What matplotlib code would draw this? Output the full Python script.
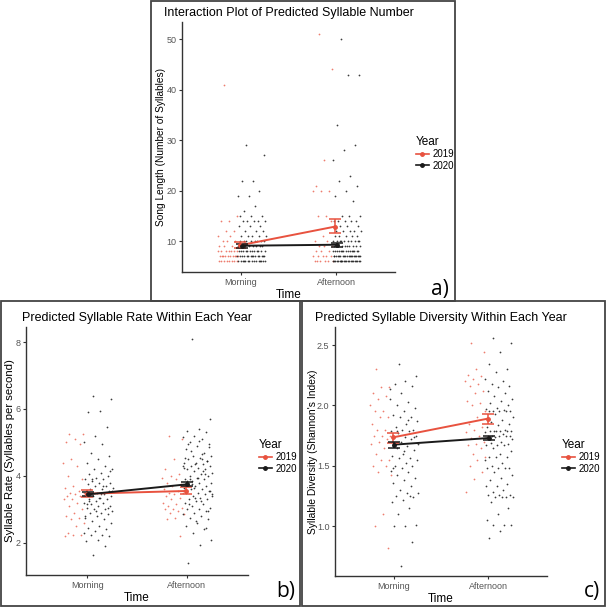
import numpy as np
import matplotlib

matplotlib.use("Agg")
import matplotlib.pyplot as plt
from matplotlib.lines import Line2D
from matplotlib.patches import Rectangle

plt.rcParams["font.family"] = ["Liberation Sans", "DejaVu Sans"]

RED = "#e8523f"
BLACK = "#1a1a1a"
TICK_GREY = "#555555"
W, H = 606, 607

times = ["Morning", "Afternoon"]
years = ["2019", "2020"]

# --- a) song length (number of syllables) ---
len_morning_2019 = [41, 15, 14, 14, 12, 12, 11, 11, 10, 10, 10, 9, 9, 9] + [8] * 7 + [7] * 10 + [6] * 8
len_morning_2020 = ([29, 27, 22, 22, 20, 19, 19, 17, 16, 15, 15, 15] + [14] * 5 + [13] * 3 + [12] * 3
                    + [11] * 5 + [10] * 8 + [9] * 8 + [8] * 12 + [7] * 15 + [6] * 15)
len_afternoon_2019 = ([51, 44, 26, 21, 20, 20, 20, 15, 15, 14, 11, 10, 10, 9, 9, 9, 8, 8, 8]
                      + [7] * 5 + [6] * 6)
len_afternoon_2020 = ([50, 43, 43, 33, 29, 28, 26, 23, 22, 21, 20, 19, 18, 15, 15, 15] + [14] * 5
                      + [13] * 3 + [12] * 5 + [11] * 5 + [10] * 10 + [9] * 10 + [8] * 15 + [7] * 20 + [6] * 22)
len_mean_2019, len_lo_2019, len_hi_2019 = [9.2, 12.9], [8.7, 11.6], [9.8, 14.4]
len_mean_2020, len_lo_2020, len_hi_2020 = [9.1, 9.3], [8.7, 8.9], [9.5, 9.7]

# --- b) syllable rate ---
rate_morning_2019 = [5.25, 5.25, 5.1, 5.0, 4.95, 4.5, 4.4, 4.3, 4.0, 3.9, 3.7, 3.65, 3.55, 3.5, 3.5,
                     3.45, 3.4, 3.4, 3.3, 3.3, 3.2, 3.1, 3.0, 2.9, 2.8, 2.75, 2.7, 2.6, 2.5, 2.3,
                     2.25, 2.25, 2.2]
rate_morning_2020 = [6.4, 6.3, 5.95, 5.9, 5.45, 5.2, 5.0, 4.95, 4.7, 4.6, 4.5, 4.4, 4.3, 4.2, 4.2,
                     4.1, 4.05, 4.0, 3.95, 3.9, 3.9, 3.85, 3.8, 3.8, 3.75, 3.7, 3.7, 3.65, 3.6, 3.6,
                     3.55, 3.5, 3.5, 3.45, 3.4, 3.4, 3.35, 3.3, 3.3, 3.25, 3.2, 3.2, 3.15, 3.1, 3.1,
                     3.05, 3.0, 3.0, 2.95, 2.9, 2.9, 2.85, 2.8, 2.75, 2.7, 2.65, 2.6, 2.5, 2.45, 2.4,
                     2.35, 2.3, 2.25, 2.25, 2.2, 2.1, 2.05, 1.9, 1.65, 3.55, 3.45, 3.25, 3.05, 2.95,
                     2.8, 3.7, 3.9, 4.15, 3.35, 3.15]
rate_afternoon_2019 = [5.2, 5.1, 4.5, 4.2, 4.05, 4.0, 3.95, 3.9, 3.8, 3.75, 3.7, 3.6, 3.55, 3.5, 3.5,
                       3.45, 3.4, 3.35, 3.3, 3.2, 3.15, 3.1, 3.05, 3.0, 3.0, 2.95, 2.9, 2.85, 2.75,
                       2.7, 2.2]
rate_afternoon_2020 = [8.1, 5.7, 5.4, 5.35, 5.3, 5.2, 5.15, 5.1, 5.0, 4.95, 4.9, 4.8, 4.7, 4.6, 4.6,
                       4.55, 4.5, 4.45, 4.4, 4.4, 4.35, 4.3, 4.3, 4.25, 4.2, 4.2, 4.15, 4.1, 4.05,
                       4.0, 4.0, 3.95, 3.9, 3.9, 3.85, 3.8, 3.8, 3.75, 3.7, 3.7, 3.65, 3.6, 3.6, 3.55,
                       3.5, 3.5, 3.45, 3.4, 3.4, 3.35, 3.3, 3.3, 3.25, 3.2, 3.15, 3.1, 3.05, 3.0, 3.0,
                       2.95, 2.9, 2.85, 2.8, 2.75, 2.7, 2.6, 2.5, 2.4, 2.3, 2.1, 1.95, 1.4, 4.45, 4.35,
                       4.25, 4.65, 4.75, 4.85, 3.95, 3.85, 4.05, 3.65, 3.45, 3.25, 3.15, 2.95, 2.65,
                       4.55, 4.15, 3.75, 3.55, 5.05, 4.95, 2.45, 3.35, 4.3, 4.5, 3.9]
rate_mean_2019, rate_lo_2019, rate_hi_2019 = [3.47, 3.55], [3.36, 3.45], [3.59, 3.67]
rate_mean_2020, rate_lo_2020, rate_hi_2020 = [3.45, 3.75], [3.39, 3.69], [3.51, 3.81]

# --- c) syllable diversity (Shannon's index) ---
div_morning_2019 = [2.3, 2.15, 2.15, 2.1, 2.08, 2.05, 2.0, 1.95, 1.95, 1.9, 1.9, 1.85, 1.8, 1.8, 1.75,
                    1.75, 1.75, 1.72, 1.7, 1.68, 1.65, 1.6, 1.55, 1.55, 1.5, 1.5, 1.45, 1.42, 1.1,
                    1.0, 0.82]
div_morning_2020 = [2.34, 2.24, 2.2, 2.18, 2.16, 2.1, 2.05, 2.03, 2.0, 1.98, 1.95, 1.92, 1.9, 1.9,
                    1.87, 1.85, 1.82, 1.8, 1.8, 1.79, 1.79, 1.77, 1.75, 1.74, 1.74, 1.72, 1.7, 1.68,
                    1.66, 1.65, 1.63, 1.6, 1.58, 1.56, 1.56, 1.55, 1.52, 1.5, 1.5, 1.48, 1.46, 1.45,
                    1.42, 1.4, 1.38, 1.36, 1.33, 1.3, 1.27, 1.27, 1.25, 1.24, 1.22, 1.2, 1.15, 1.1,
                    1.01, 1.0, 1.0, 0.87, 0.67, 2.14, 1.88, 1.79, 1.74, 1.62, 1.48, 1.25]
div_afternoon_2019 = [2.52, 2.44, 2.3, 2.25, 2.24, 2.22, 2.2, 2.18, 2.16, 2.12, 2.1, 2.04, 2.02, 2.0,
                      1.95, 1.9, 1.85, 1.82, 1.8, 1.78, 1.75, 1.73, 1.7, 1.68, 1.67, 1.65, 1.6, 1.57,
                      1.55, 1.5, 1.45, 1.39, 1.28]
div_afternoon_2020 = ([2.56, 2.52, 2.44, 2.34, 2.3, 2.28, 2.22, 2.2, 2.18, 2.16, 2.15, 2.12, 2.1, 2.08,
                       2.05, 2.04, 2.02, 2.0, 1.98, 1.97, 1.96] + [1.95] * 5
                      + [1.93, 1.9, 1.88, 1.86, 1.85, 1.84, 1.82, 1.8] + [1.79] * 6 + [1.78, 1.76]
                      + [1.75] * 5 + [1.74, 1.72, 1.7, 1.69, 1.68] + [1.67] * 3 + [1.65, 1.62, 1.6]
                      + [1.57] * 3 + [1.55, 1.52, 1.5] + [1.48] * 4 + [1.45, 1.42, 1.4, 1.38, 1.35, 1.33, 1.33, 1.3, 1.28]
                      + [1.26] * 3 + [1.24] * 4 + [1.2, 1.15, 1.1, 1.05, 1.01, 1.01, 1.01, 0.96, 0.9])
div_mean_2019, div_lo_2019, div_hi_2019 = [1.735, 1.89], [1.69, 1.85], [1.775, 1.93]
div_mean_2020, div_lo_2020, div_hi_2020 = [1.675, 1.73], [1.645, 1.71], [1.70, 1.75]


def spread(n, half):
    # deterministic even spread (golden-ratio sequence) to stand in for jitter
    return ((np.arange(n) * 0.6180339887 + 0.31) % 1 - 0.5) * 2 * half


def draw_panel(ax, points, stats, ylim, yticks, ylabel, title, ylabel_x, label_size,
               ytick_fmt="{:g}"):
    for (ti, yr), vals in points.items():
        vals = np.asarray(vals, dtype=float)
        if yr == "2019":
            x = ti + 1 - 0.14 + spread(len(vals), 0.11)
            ax.scatter(x, vals, s=1.6, color=RED, alpha=0.75, linewidths=0, zorder=2)
        else:
            x = ti + 1 + 0.11 + spread(len(vals), 0.15)
            ax.scatter(x, vals, s=1.6, color=BLACK, alpha=0.85, linewidths=0, zorder=2)
    for (mean, lo, hi), col, dx in [(stats["2019"], RED, -0.008), (stats["2020"], BLACK, 0.008)]:
        xs = np.arange(1, len(mean) + 1) + dx
        mean = np.asarray(mean)
        err = [mean - np.asarray(lo), np.asarray(hi) - mean]
        ax.plot(xs, mean, color=col, lw=1.4, zorder=4)
        ax.errorbar(xs, mean, yerr=err, fmt="o", ms=2.5, color=col, ecolor=col,
                    elinewidth=1.1, capsize=4.5, capthick=1.1, zorder=5)
    ax.set_xlim(0.38, 2.62)
    ax.set_ylim(*ylim)
    ax.set_xticks([1, 2])
    ax.set_xticklabels(times)
    ax.set_yticks(yticks)
    ax.set_yticklabels([ytick_fmt.format(v) for v in yticks])
    ax.tick_params(labelsize=6.5, colors="#333333", labelcolor=TICK_GREY, length=2.5,
                   width=0.8, pad=1.5)
    for side in ("top", "right"):
        ax.spines[side].set_visible(False)
    for side in ("left", "bottom"):
        ax.spines[side].set_color("#333333")
        ax.spines[side].set_linewidth(1.0)
    ax.set_xlabel("Time", fontsize=8.5, labelpad=2)
    ax.set_ylabel(ylabel, fontsize=label_size)
    ax.yaxis.set_label_coords(ylabel_x, 0.5)
    ax.set_title(title, fontsize=9.0, pad=4)


def add_legend(fig, x_px, y_px):
    handles = [Line2D([], [], color=RED, marker="o", ms=2.5, lw=1.2),
               Line2D([], [], color=BLACK, marker="o", ms=2.5, lw=1.2)]
    fig.legend(handles, years, title="Year", loc="upper left",
               bbox_to_anchor=(x_px / W, 1 - y_px / H), frameon=False, fontsize=7,
               title_fontsize=8.5, handlelength=1.3, handletextpad=0.4, labelspacing=0.15,
               borderpad=0, alignment="left")


def ax_rect(l, r, t, b):
    return [l / W, 1 - b / H, (r - l) / W, (b - t) / H]


fig = plt.figure(figsize=(W / 100, H / 100), dpi=100)
fig.patch.set_facecolor("white")

ax_a = fig.add_axes(ax_rect(182, 395, 22, 272))
draw_panel(ax_a,
           {(0, "2019"): len_morning_2019, (0, "2020"): len_morning_2020,
            (1, "2019"): len_afternoon_2019, (1, "2020"): len_afternoon_2020},
           {"2019": (len_mean_2019, len_lo_2019, len_hi_2019),
            "2020": (len_mean_2020, len_lo_2020, len_hi_2020)},
           (3.9, 53.4), [10, 20, 30, 40, 50],
           "Song Length (Number of Syllables)", "Interaction Plot of Predicted Syllable Number",
           ylabel_x=-0.075, label_size=7.3)

ax_b = fig.add_axes(ax_rect(26, 248, 327, 575))
draw_panel(ax_b,
           {(0, "2019"): rate_morning_2019, (0, "2020"): rate_morning_2020,
            (1, "2019"): rate_afternoon_2019, (1, "2020"): rate_afternoon_2020},
           {"2019": (rate_mean_2019, rate_lo_2019, rate_hi_2019),
            "2020": (rate_mean_2020, rate_lo_2020, rate_hi_2020)},
           (1.04, 8.45), [2, 4, 6, 8],
           "Syllable Rate (Syllables per second)", "Predicted Syllable Rate Within Each Year",
           ylabel_x=-0.05, label_size=8.2)

ax_c = fig.add_axes(ax_rect(335, 547, 327, 576))
draw_panel(ax_c,
           {(0, "2019"): div_morning_2019, (0, "2020"): div_morning_2020,
            (1, "2019"): div_afternoon_2019, (1, "2020"): div_afternoon_2020},
           {"2019": (div_mean_2019, div_lo_2019, div_hi_2019),
            "2020": (div_mean_2020, div_lo_2020, div_hi_2020)},
           (0.586, 2.65), [1.0, 1.5, 2.0, 2.5],
           "Syllable Diversity (Shannon's Index)", "Predicted Syllable Diversity Within Each Year",
           ylabel_x=-0.08, label_size=7.4, ytick_fmt="{:.1f}")

add_legend(fig, 411, 131)
add_legend(fig, 254, 434)
add_legend(fig, 557, 434)

# panel frames
for l, t, r, b in [(151, 1, 455, 301), (1, 301, 300, 606), (302, 301, 605, 606)]:
    fig.add_artist(Rectangle((l / W, 1 - b / H), (r - l) / W, (b - t) / H,
                             transform=fig.transFigure, fill=False, edgecolor="#444444", lw=1.3))

for lab, x, y in [("a)", 440, 289), ("b)", 286, 592), ("c)", 592, 592)]:
    fig.text(x / W, 1 - y / H, lab, fontsize=15, ha="center", va="center",
             family=["Open Sans", "DejaVu Sans"])

fig.savefig("out.png", dpi=100)
